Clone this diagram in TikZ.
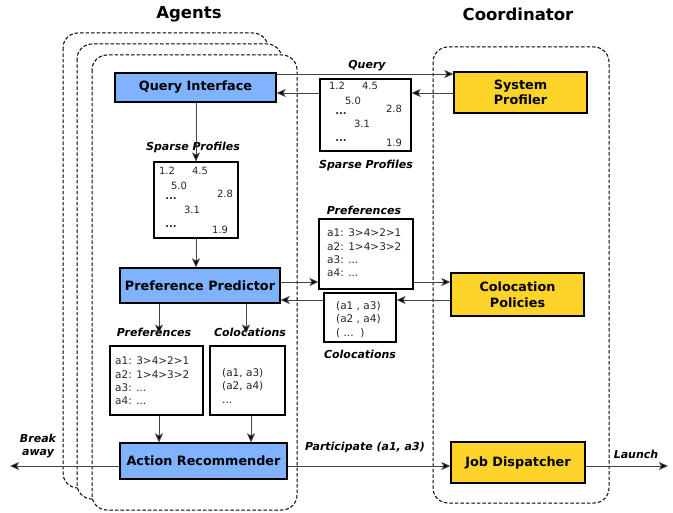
\documentclass[tikz,border=0pt]{standalone}
\usepackage{fontspec}
\setmainfont{DejaVu Sans}
\usetikzlibrary{arrows.meta}
\definecolor{agblue}{HTML}{80B3FF}
\definecolor{coyel}{HTML}{FFD42A}
\definecolor{lgray}{HTML}{444444}
\begin{document}
\begin{tikzpicture}[x=1pt,y=-1pt,
  dashbox/.style={draw=black,line width=1pt,dash pattern=on 3.5pt off 2pt,rounded corners=15pt,fill=white},
  bluebox/.style={draw=black,line width=1.2pt,fill=agblue,inner sep=0pt,font=\fontsize{12.8}{15.5}\selectfont\bfseries,align=center},
  yelbox/.style={draw=black,line width=1.2pt,fill=coyel,inner sep=0pt,font=\fontsize{12.8}{15.5}\selectfont\bfseries,align=center},
  databox/.style={draw=black,line width=1.1pt,fill=white,inner sep=0pt},
  num/.style={inner sep=0pt,font=\fontsize{10}{11}\selectfont,text=black!85},
  dtxt/.style={inner sep=0pt,font=\fontsize{10.5}{13.3}\selectfont,align=left,text=black!85},
  lab/.style={inner sep=0pt,font=\fontsize{11}{13}\selectfont\bfseries\itshape,align=center},
  title/.style={inner sep=0pt,font=\fontsize{16.5}{19}\selectfont\bfseries},
  arr/.style={draw=lgray,line width=0.9pt,-{Stealth[length=9pt,width=8pt,inset=2pt,fill=black]}}]
\useasboundingbox (0,0) rectangle (673,513);

% titles
\node[title] (tag) at (189,14) {Agents};
\node[title] (tco) at (518,14) {Coordinator};

% dashed containers
\draw[dashbox] (63,33) rectangle (268,488);
\draw[dashbox] (77,44) rectangle (282,499);
\draw[dashbox] (92,55) rectangle (297,510);
\draw[dashbox,fill=none] (433,47) rectangle (609,503);

% main nodes
\node[bluebox,minimum width=161pt,minimum height=29pt] (qi) at (195.5,87.5) {Query Interface};
\node[bluebox,minimum width=160pt,minimum height=35pt] (pp) at (200,285.5) {Preference Predictor};
\node[bluebox,minimum width=167pt,minimum height=36pt] (ar) at (203.5,461) {Action Recommender};
\node[yelbox,minimum width=133pt,minimum height=41pt] (sp) at (520.5,92.5) {System\\Profiler};
\node[yelbox,minimum width=133pt,minimum height=43pt] (cp) at (517.5,294.5) {Colocation\\Policies};
\node[yelbox,minimum width=134pt,minimum height=41pt] (jd) at (518,462.5) {Job Dispatcher};

% sparse profile matrix (coordinator side)
\node[databox,minimum width=91pt,minimum height=72pt] (m1) at (365.5,115) {};
\node[num] (m1a) at (337,86) {1.2};
\node[num] (m1b) at (370,86) {4.5};
\node[num] (m1c) at (353,101) {5.0};
\node[num] (m1d) at (394,109) {2.8};
\node[num] (m1e) at (341,114) {\textbf{...}};
\node[num] (m1f) at (362,124) {3.1};
\node[num] (m1g) at (341,141) {\textbf{...}};
\node[num] (m1h) at (394,143) {1.9};
\node[lab] (l1) at (366,165) {Sparse Profiles};
\node[lab] (l0) at (367,66) {Query};

% sparse profile matrix (agent side)
\node[databox,minimum width=84pt,minimum height=76pt] (m2) at (196,200) {};
\node[num] (m2a) at (167,171) {1.2};
\node[num] (m2b) at (200,171) {4.5};
\node[num] (m2c) at (179,186) {5.0};
\node[num] (m2d) at (225,194) {2.8};
\node[num] (m2e) at (171,199) {\textbf{...}};
\node[num] (m2f) at (192,210) {3.1};
\node[num] (m2g) at (171,227) {\textbf{...}};
\node[num] (m2h) at (220,230) {1.9};
\node[lab] (l2) at (193,147) {Sparse Profiles};

% preferences (coordinator side)
\node[lab] (l3) at (364,210) {Preferences};
\node[databox,minimum width=94pt,minimum height=70pt] (pb1) at (366,254) {};
\node[dtxt,anchor=west] (pt1) at (327,253) {a1: 3>4>2>1\\a2: 1>4>3>2\\a3: ...\\a4: ...};

% colocations (coordinator side)
\node[databox,minimum width=72pt,minimum height=49pt] (cb1) at (360,317.5) {};
\node[dtxt,anchor=west] (ct1) at (336,319.5) {(a1 , a3)\\(a2 , a4)\\( ...~~)};
\node[lab] (l4) at (360,354) {Colocations};

% preferences / colocations (agent side)
\node[lab] (l5) at (154,332) {Preferences};
\node[lab] (l6) at (250,332) {Colocations};
\node[databox,minimum width=93pt,minimum height=69pt] (pb2) at (156.5,380.5) {};
\node[dtxt,anchor=west] (pt2) at (115,381) {a1: 3>4>2>1\\a2: 1>4>3>2\\a3: ...\\a4: ...};
\node[databox,minimum width=75pt,minimum height=69pt] (cb2) at (247.5,380.5) {};
\node[dtxt,anchor=west] (ct2) at (222,386) {(a1, a3)\\(a2, a4)\\...};

% edge labels
\node[lab] (l7) at (38,446) {Break\\away};
\node[lab] (l8) at (365,447) {Participate (a1, a3)};
\node[lab] (l9) at (636,454) {Launch};
\coordinate (bk) at (10,466);
\coordinate (la) at (668,466);

% connectors
\draw[arr] (qi.east |- 0,74) -- (sp.west |- 0,74);
\draw[arr] (sp.west |- 0,93) -- (m1.east |- 0,93);
\draw[arr] (m1.west |- 0,93) -- (qi.east |- 0,93);
\draw[arr] (qi.south -| m2.north) -- (m2.north);
\draw[arr] (m2.south) -- (pp.north -| m2.south);
\draw[arr] (pp.east |- 0,282) -- (pb1.west |- 0,282);
\draw[arr] (pb1.east |- 0,282) -- (cp.west |- 0,282);
\draw[arr] (cp.west |- 0,300) -- (cb1.east |- 0,300);
\draw[arr] (cb1.west |- 0,300) -- (pp.east |- 0,300);
\draw[arr] (pp.south -| 159,0) -- ([yshift=-6pt]l5.north -| 159,0);
\draw[arr] (pp.south -| 246,0) -- ([yshift=-6pt]l6.north -| 246,0);
\draw[arr] (pb2.south -| 159,0) -- (ar.north -| 159,0);
\draw[arr] (cb2.south -| 251,0) -- (ar.north -| 251,0);
\draw[arr] (ar.west |- bk) -- (bk);
\draw[arr] (ar.east |- 0,466) -- (jd.west |- 0,466);
\draw[arr] (jd.east |- la) -- (la);
\end{tikzpicture}
\end{document}
